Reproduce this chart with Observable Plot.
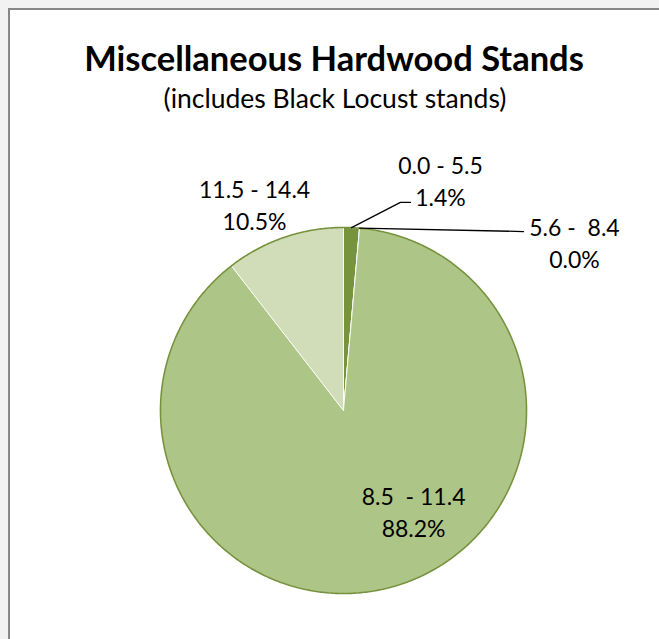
<!DOCTYPE html>
<html>
<head>
<meta charset="utf-8">
<script src="https://cdn.jsdelivr.net/npm/d3@7"></script>
<script src="https://cdn.jsdelivr.net/npm/@observablehq/plot@0.6"></script>
<style>
  html, body { margin: 0; padding: 0; width: 659px; height: 639px; overflow: hidden; background: #f2f2f2; }
  body { position: relative; font-family: Lato, "Open Sans", sans-serif; }
  #frame { position: absolute; left: 8px; top: 8px; width: 720px; height: 720px; background: #fff; border: 2px solid #878787; box-sizing: border-box; }
  #title { position: absolute; left: 0; width: 668px; top: 40px; line-height: 35px; text-align: center; font-weight: bold; font-size: 34.5px; color: #000; }
  #subtitle { position: absolute; left: 0; width: 670px; top: 85px; line-height: 27px; text-align: center; font-size: 26.5px; color: #000; }
  #chart { position: absolute; left: 0; top: 0; }
  #chart svg { white-space: pre; }
</style>
</head>
<body>
<div id="frame"></div>
<div id="title">Miscellaneous Hardwood Stands</div>
<div id="subtitle">(includes Black Locust stands)</div>
<div id="chart"></div>
<script>
// Diameter classes and their share of stands (percent)
const classes = ["0.0 - 5.5", "5.6 -  8.4", "8.5  - 11.4", "11.5 - 14.4"];
const shares = [1.4, 0.0, 88.2, 10.5];
const sliceColors = ["#77933c", "#9bbb59", "#adc687", "#d0ddb8"];

// Pie geometry in pixels
const W = 659, H = 639, CX = 343, CY = 410, R = 183;

// Label placement (unit radii relative to the pie centre)
const labelAt = [[0.530, 1.262], [1.262, 0.923], [0.383, -0.546], [-0.486, 1.131]];
// Leader lines for the two thin slices: elbow and end points
const leaders = [
  {slice: 0, path: [[0.311, 1.137], [0.366, 1.137]]},
  {slice: 1, path: [[0.984, 0.978]]}
];

const arcs = d3.pie().sort(null).value(d => d)(shares);

// Closed polygon for each slice (centre → arc → centre)
const slicePts = [];
arcs.forEach((a, i) => {
  const k = classes[i];
  slicePts.push({k, x: 0, y: 0});
  const n = Math.max(2, Math.ceil((a.endAngle - a.startAngle) / 0.005));
  for (let j = 0; j <= n; ++j) {
    const t = a.startAngle + (a.endAngle - a.startAngle) * j / n;
    slicePts.push({k, x: Math.sin(t), y: Math.cos(t)});
  }
  slicePts.push({k, x: 0, y: 0});
});

// Outer rim
const rim = d3.range(0, 721).map(j => {
  const t = j / 720 * 2 * Math.PI;
  return {x: Math.sin(t), y: Math.cos(t)};
});

// Leader line points start at each slice's mid-angle on the rim
const leaderPts = leaders.flatMap((l, li) => {
  const a = arcs[l.slice];
  const m = (a.startAngle + a.endAngle) / 2;
  return [{g: li, x: Math.sin(m), y: Math.cos(m)}, ...l.path.map(([x, y]) => ({g: li, x, y}))];
});

const labels = classes.map((c, i) => ({
  x: labelAt[i][0], y: labelAt[i][1],
  text: c + "\n" + d3.format(".1f")(shares[i]) + "%"
}));

const chart = Plot.plot({
  width: W, height: H,
  margin: 0,
  style: {background: "transparent", fontFamily: "Lato, 'Open Sans', sans-serif"},
  x: {domain: [-CX / R, (W - CX) / R], range: [0, W], axis: null},
  y: {domain: [-(H - CY) / R, CY / R], range: [H, 0], axis: null},
  color: {domain: classes, range: sliceColors},
  marks: [
    Plot.line(slicePts, {x: "x", y: "y", z: "k", fill: "k", stroke: "#ffffff", strokeWidth: 1, strokeOpacity: 0.8, curve: "linear"}),
    Plot.line(rim, {x: "x", y: "y", stroke: "#76923c", strokeWidth: 1.6}),
    Plot.line(leaderPts, {x: "x", y: "y", z: "g", stroke: "#000", strokeWidth: 1.3}),
    Plot.text(labels, {x: "x", y: "y", text: "text", fontSize: 23, lineHeight: 1.4, fill: "#000"})
  ]
});
document.getElementById("chart").append(chart);
</script>
</body>
</html>
